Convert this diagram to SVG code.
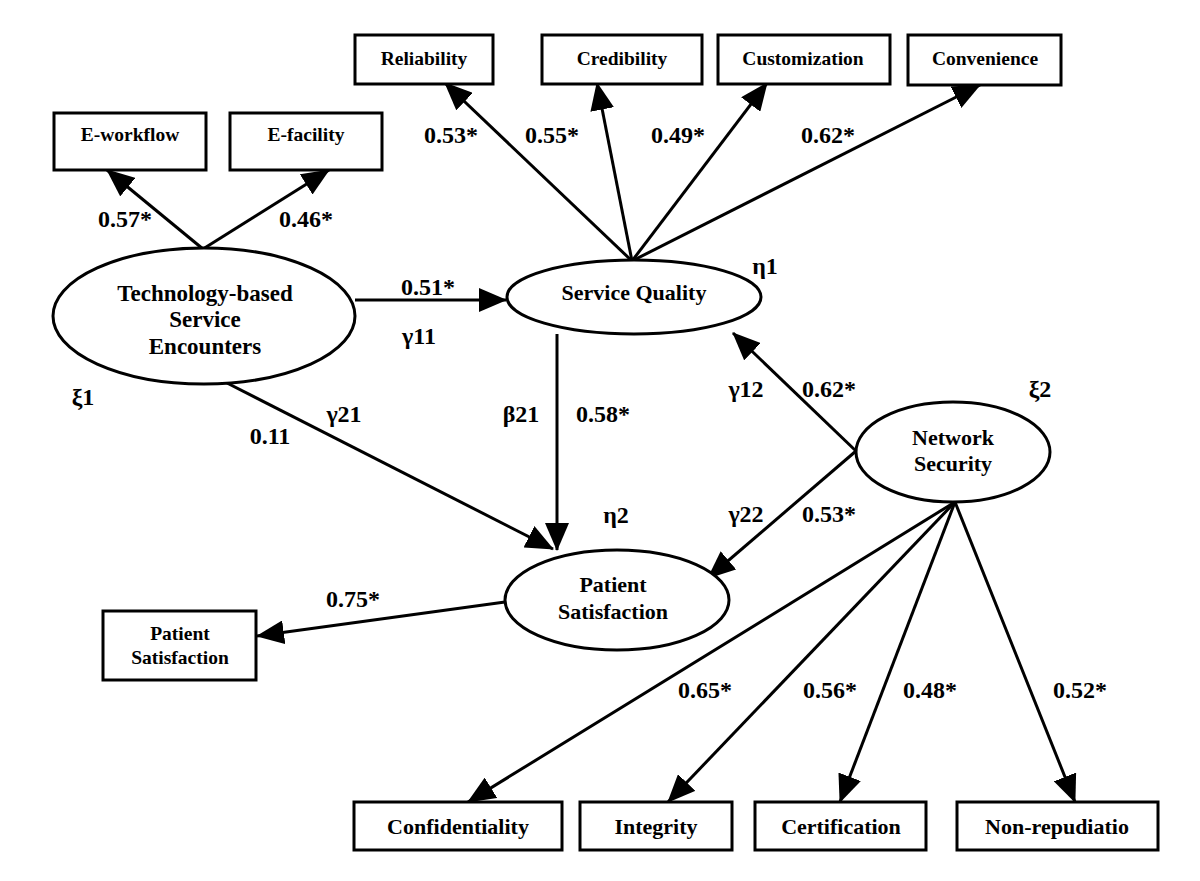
<svg xmlns="http://www.w3.org/2000/svg" width="1200" height="881" viewBox="0 0 1200 881">
<style>
text{font-family:"Liberation Serif","Times New Roman",serif;font-weight:bold;fill:#000;text-anchor:middle}
.box{fill:#fff;stroke:#000;stroke-width:3}
.ell{fill:#fff;stroke:#000;stroke-width:3}
.bt{font-size:19.5px}
.bb{font-size:22px}
.et{font-size:22px}
.lb{font-size:24px}
.c{stroke:#000;stroke-width:3;fill:none;marker-end:url(#ah)}
</style>
<defs>
<marker id="ah" markerUnits="userSpaceOnUse" markerWidth="28" markerHeight="24" refX="27" refY="12" orient="auto">
<path d="M0,0 L28,12 L0,24 Z" fill="#000"/>
</marker>
</defs>
<rect width="1200" height="881" fill="#fff"/>
<g id="connectors">
<line class="c" x1="203" y1="249" x2="107" y2="170"/>
<line class="c" x1="203" y1="249" x2="329" y2="170"/>
<line class="c" x1="632" y1="261" x2="445" y2="83"/>
<line class="c" x1="632" y1="261" x2="597" y2="83"/>
<line class="c" x1="632" y1="261" x2="767" y2="83"/>
<line class="c" x1="632" y1="261" x2="980" y2="85"/>
<line class="c" x1="355" y1="300" x2="506" y2="300"/>
<line class="c" x1="557" y1="334" x2="557" y2="550"/>
<line class="c" x1="227" y1="383" x2="553" y2="549"/>
<line class="c" x1="856" y1="451" x2="733" y2="333"/>
<line class="c" x1="856" y1="451" x2="708" y2="578"/>
<line class="c" x1="505" y1="602" x2="257" y2="636"/>
<line class="c" x1="955" y1="502" x2="468" y2="802"/>
<line class="c" x1="955" y1="502" x2="668" y2="802"/>
<line class="c" x1="955" y1="502" x2="840" y2="802"/>
<line class="c" x1="955" y1="502" x2="1075" y2="802"/>
</g>
<g id="n-eworkflow"><rect class="box" x="54" y="113" width="152" height="57"/><text class="bt" x="130" y="141">E-workflow</text></g>
<g id="n-efacility"><rect class="box" x="230" y="113" width="152" height="57"/><text class="bt" x="306" y="141">E-facility</text></g>
<g id="n-reliability"><rect class="box" x="355" y="35" width="138" height="49"/><text class="bt" x="424" y="65">Reliability</text></g>
<g id="n-credibility"><rect class="box" x="542" y="35" width="160" height="49"/><text class="bt" x="622" y="65">Credibility</text></g>
<g id="n-customization"><rect class="box" x="718" y="35" width="172" height="49"/><text class="bt" x="803" y="65">Customization</text></g>
<g id="n-convenience"><rect class="box" x="908" y="35" width="153" height="50"/><text class="bt" x="985" y="65">Convenience</text></g>
<g id="n-tech"><ellipse class="ell" cx="204" cy="316" rx="151" ry="68"/><text class="et" style="font-size:23px" x="205" y="301">Technology-based</text><text class="et" style="font-size:23px" x="205" y="327">Service</text><text class="et" style="font-size:23px" x="205" y="354">Encounters</text></g>
<g id="n-sq"><ellipse class="ell" cx="634" cy="297" rx="127" ry="37"/><text class="et" x="634" y="300">Service Quality</text></g>
<g id="n-ps"><ellipse class="ell" cx="617" cy="600" rx="112" ry="50"/><text class="et" x="613" y="592">Patient</text><text class="et" x="613" y="619">Satisfaction</text></g>
<g id="n-ns"><ellipse class="ell" cx="953" cy="452" rx="97" ry="50"/><text class="et" x="953" y="445">Network</text><text class="et" x="953" y="471">Security</text></g>
<g id="n-psbox"><rect class="box" x="103" y="611" width="153" height="69"/><text class="bt" x="180" y="640">Patient</text><text class="bt" x="180" y="664">Satisfaction</text></g>
<g id="n-conf"><rect class="box" x="354" y="802" width="208" height="48"/><text class="bb" x="458" y="834">Confidentiality</text></g>
<g id="n-integ"><rect class="box" x="580" y="802" width="152" height="48"/><text class="bb" x="656" y="834">Integrity</text></g>
<g id="n-cert"><rect class="box" x="755" y="802" width="171" height="48"/><text class="bb" x="841" y="834">Certification</text></g>
<g id="n-nonrep"><rect class="box" x="957" y="802" width="201" height="48"/><text class="bb" x="1057" y="834">Non-repudiatio</text></g>
<g id="labels">
<text class="lb" x="125" y="227">0.57*</text>
<text class="lb" x="306" y="227">0.46*</text>
<text class="lb" x="451" y="143">0.53*</text>
<text class="lb" x="552" y="143">0.55*</text>
<text class="lb" x="678" y="143">0.49*</text>
<text class="lb" x="828" y="143">0.62*</text>
<text class="lb" x="765" y="274">η1</text>
<text class="lb" x="428" y="295">0.51*</text>
<text class="lb" x="419" y="344">γ11</text>
<text class="lb" x="83" y="405">ξ1</text>
<text class="lb" x="344" y="422">γ21</text>
<text class="lb" x="270" y="444">0.11</text>
<text class="lb" x="521" y="422">β21</text>
<text class="lb" x="603" y="422">0.58*</text>
<text class="lb" x="746" y="397">γ12</text>
<text class="lb" x="829" y="397">0.62*</text>
<text class="lb" x="1040" y="397">ξ2</text>
<text class="lb" x="616" y="523">η2</text>
<text class="lb" x="746" y="522">γ22</text>
<text class="lb" x="829" y="522">0.53*</text>
<text class="lb" x="353" y="607">0.75*</text>
<text class="lb" x="705" y="698">0.65*</text>
<text class="lb" x="830" y="698">0.56*</text>
<text class="lb" x="930" y="698">0.48*</text>
<text class="lb" x="1080" y="698">0.52*</text>
</g>
</svg>
